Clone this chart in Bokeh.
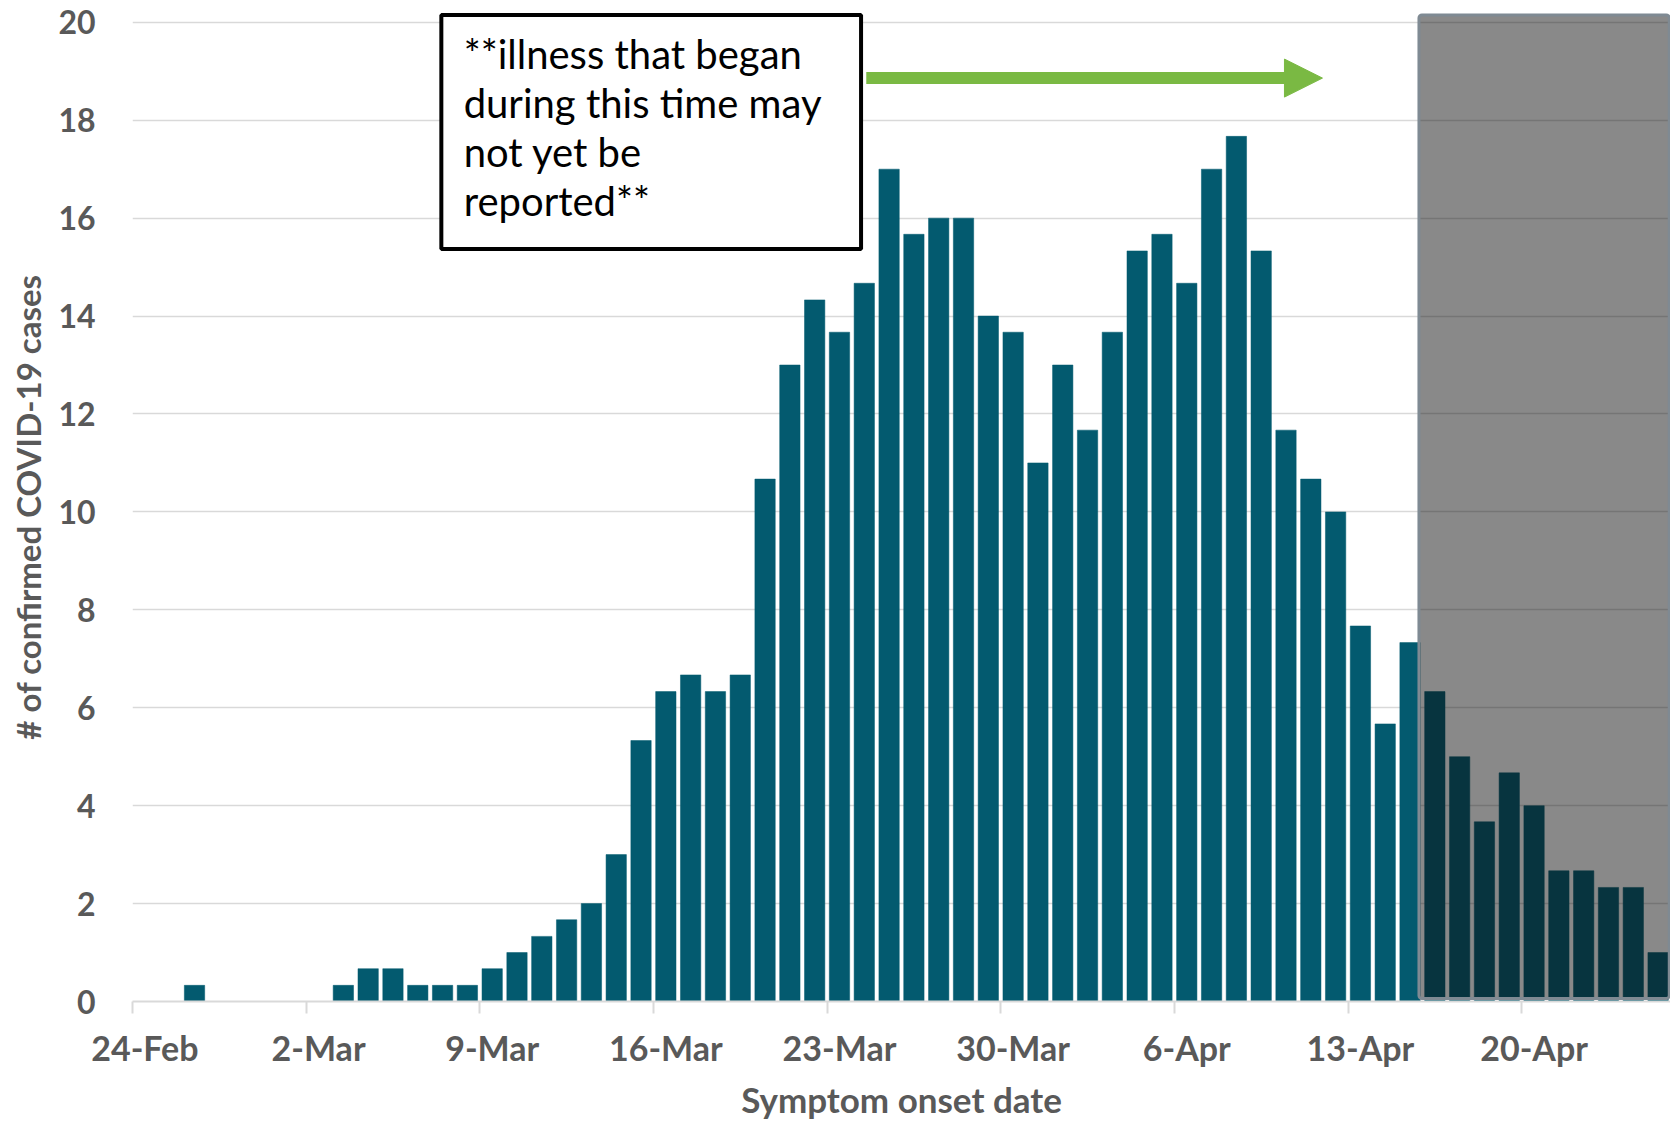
from bokeh.plotting import figure
from bokeh.models import Range1d, FixedTicker, BoxAnnotation, Label, Arrow, NormalHead
from bokeh.embed import file_html
from bokeh.resources import INLINE
import pandas as pd

# ---------------- data ----------------
start_date = "2020-02-24"
cases = [0, 0, 0.33, 0, 0, 0, 0, 0, 0.33, 0.67,
         0.67, 0.33, 0.33, 0.33, 0.67, 1.0, 1.33, 1.67, 2.0, 3.0,
         5.33, 6.33, 6.67, 6.33, 6.67, 10.67, 13.0, 14.33, 13.67, 14.67,
         17.0, 15.67, 16.0, 16.0, 14.0, 13.67, 11.0, 13.0, 11.67, 13.67,
         15.33, 15.67, 14.67, 17.0, 17.67, 15.33, 11.67, 10.67, 10.0, 7.67,
         5.67, 7.33, 6.33, 5.0, 3.67, 4.67, 4.0, 2.67, 2.67, 2.33,
         2.33, 1.0]
week_labels = ["24-Feb", "2-Mar", "9-Mar", "16-Mar", "23-Mar", "30-Mar", "6-Apr", "13-Apr", "20-Apr"]
y_ticks = [0, 2, 4, 6, 8, 10, 12, 14, 16, 18, 20]
unreported_from = "2020-04-16"
note_lines = ["**illness that began", "during this time may", "not yet be", "reported**"]
x_title = "Symptom onset date"
y_title = "# of confirmed COVID-19 cases"

# ---------------- derived ----------------
dates = pd.date_range(start_date, periods=len(cases), freq="D")
day_pos = [i + 0.5 for i in range(len(cases))]
n_days = len(cases)
shade_start = (pd.Timestamp(unreported_from) - pd.Timestamp(start_date)).days

BAR = "#035A6F"
GREY_TXT = "#595959"
GRID = "#d9d9d9"
GREEN = "#7AB943"
FONT = "Lato"

p = figure(frame_width=1538, frame_height=989,
           x_range=Range1d(0, n_days), y_range=Range1d(0, 20.2),
           output_backend="svg", toolbar_location=None,
           min_border_left=132, min_border_right=0,
           min_border_top=12, min_border_bottom=110)
p.outline_line_color = None
p.background_fill_color = "white"
p.border_fill_color = "white"

p.vbar(x=day_pos, top=cases, width=0.82, fill_color=BAR, line_color=BAR, line_width=0.5)

# x axis
label_ticks = [w * 7 + 0.5 for w in range(len(week_labels))]
p.xaxis.ticker = FixedTicker(ticks=label_ticks, minor_ticks=[w * 7 for w in range(len(week_labels))])
p.xaxis.major_label_overrides = {t: lab for t, lab in zip(label_ticks, week_labels)}
p.xaxis.major_tick_line_color = None
p.xaxis.major_tick_out = 0
p.xaxis.major_tick_in = 0
p.xaxis.minor_tick_line_color = GRID
p.xaxis.minor_tick_line_width = 2
p.xaxis.minor_tick_out = 12
p.xaxis.minor_tick_in = 0
p.xaxis.axis_line_color = GRID
p.xaxis.axis_line_width = 2
p.xaxis.major_label_text_font = FONT
p.xaxis.major_label_text_font_style = "bold"
p.xaxis.major_label_text_font_size = "34px"
p.xaxis.major_label_text_color = GREY_TXT
p.xaxis.major_label_standoff = 13
p.xaxis.axis_label = x_title
p.xaxis.axis_label_text_font = FONT
p.xaxis.axis_label_text_font_style = "bold"
p.xaxis.axis_label_text_font_size = "35px"
p.xaxis.axis_label_text_color = GREY_TXT
p.xaxis.axis_label_standoff = 7

# y axis
p.yaxis.ticker = FixedTicker(ticks=y_ticks)
p.yaxis.axis_line_color = None
p.yaxis.major_tick_line_color = None
p.yaxis.minor_tick_line_color = None
p.yaxis.major_label_text_font = FONT
p.yaxis.major_label_text_font_style = "bold"
p.yaxis.major_label_text_font_size = "32px"
p.yaxis.major_label_text_color = GREY_TXT
p.yaxis.major_label_standoff = 31
p.yaxis.axis_label = y_title
p.yaxis.axis_label_text_font = FONT
p.yaxis.axis_label_text_font_style = "bold"
p.yaxis.axis_label_text_font_size = "33px"
p.yaxis.axis_label_text_color = GREY_TXT
p.yaxis.axis_label_standoff = 7

p.xgrid.visible = False
p.ygrid.ticker = FixedTicker(ticks=y_ticks)
p.ygrid.grid_line_color = GRID
p.ygrid.grid_line_width = 1.5

# shaded "may not yet be reported" period
shade = BoxAnnotation(left=shade_start - 0.14, right=n_days - 0.05, bottom=0.06, top=20.15,
                      fill_color="#0c0c0c", fill_alpha=0.486,
                      line_color="#7f8a93", line_width=3, line_alpha=1.0,
                      border_radius=3, level="annotation")
p.add_layout(shade)

# note box
note_box = BoxAnnotation(left=12.45, right=29.37, bottom=15.37, top=20.15,
                         fill_color="white", fill_alpha=1.0,
                         line_color="black", line_alpha=1.0, line_width=4,
                         level="annotation")
p.add_layout(note_box)
for k, line in enumerate(note_lines):
    p.add_layout(Label(x=13.35, y=19.36 - k * 1.0, text=line,
                       text_font=FONT, text_font_size="40px", text_color="black",
                       text_baseline="alphabetic", text_align="left"))

# green arrow
p.add_layout(Arrow(end=NormalHead(size=38, fill_color=GREEN, line_color=GREEN),
                   x_start=29.58, y_start=18.86, x_end=47.97, y_end=18.86,
                   line_color=GREEN, line_width=12))

open("out.html", "w").write(file_html(p, INLINE))
